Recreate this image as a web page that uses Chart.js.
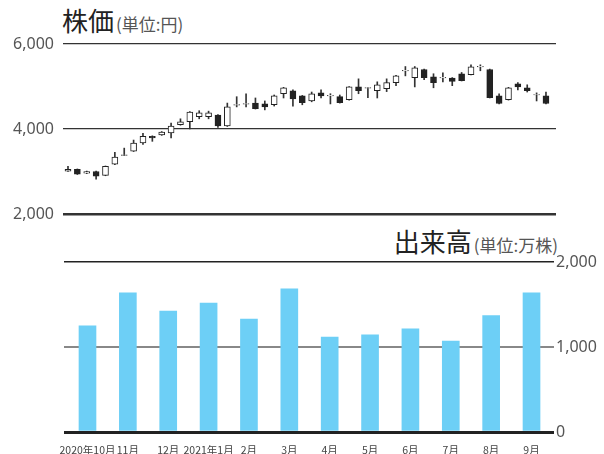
<!DOCTYPE html>
<html><head><meta charset="utf-8">
<script src="https://cdn.jsdelivr.net/npm/chart.js@4/dist/chart.umd.min.js"></script>
<style>
html,body{margin:0;padding:0;background:#fff;width:604px;height:454px;overflow:hidden;}
.box{position:absolute;left:0;}
.t1{position:absolute;left:62px;top:7px;font-family:"Noto Sans CJK JP";white-space:nowrap;line-height:1;}
.t2{position:absolute;right:46px;top:228px;font-family:"Noto Sans CJK JP";white-space:nowrap;line-height:1;}
.big{font-size:26px;color:#222;}
.small{font-size:17px;color:#555;margin-left:2px;}
</style></head>
<body>
<div class="t1"><span class="big">株価</span><span class="small">(単位:円)</span></div>
<div class="t2"><span class="big">出来高</span><span class="small">(単位:万株)</span></div>
<div class="box" style="top:0;width:604px;height:245px;"><canvas id="c1" width="604" height="245"></canvas></div>
<div class="box" style="top:225px;width:604px;height:229px;"><canvas id="c2" width="604" height="229"></canvas></div>
<script>
// Weekly candles (yen)
const openP  = [3010,3050,2960,3000,2910,3170,3380,3480,3670,3830,3860,3910,4100,4170,4290,4290,4330,4070,4560,4585,4610,4590,4570,4830,4900,4780,4660,4850,4780,4760,4690,4990,4960,4900,4950,5090,5365,5210,5400,5230,5200,5200,5300,5280,5460,5400,4780,4690,5060,4970,4800,4780];
const closeP = [3050,2940,3000,2890,3120,3340,3395,3670,3830,3790,3930,4070,4170,4400,4380,4380,4070,4520,4575,4600,4480,4520,4780,4970,4710,4620,4830,4780,4790,4620,4990,4900,4975,5040,5090,5250,5380,5440,5210,5090,5215,5120,5140,5460,5475,4740,4600,4970,4990,4900,4810,4600];
const highP  = [3120,3060,3010,3010,3130,3450,3550,3740,3900,3840,3940,4140,4240,4410,4430,4420,4340,4610,4760,4830,4730,4660,4800,4980,4920,4790,4870,4920,4830,4800,5000,5180,4980,5110,5180,5260,5470,5470,5410,5300,5320,5210,5330,5510,5510,5410,4830,4980,5090,5040,4850,4870];
const lowP   = [3000,2930,2950,2820,2900,3160,3375,3470,3640,3710,3850,3790,4090,4000,4240,4240,4040,4060,4520,4520,4470,4450,4540,4730,4540,4570,4640,4730,4590,4610,4680,4830,4740,4730,4880,5020,5250,4990,5160,4970,5110,5020,5130,5270,5370,4730,4590,4680,4920,4870,4660,4590];
// Monthly volume (10k shares)
const months = ['2020年10月','11月','12月','2021年1月','2月','3月','4月','5月','6月','7月','8月','9月'];
const volume = [1248,1637,1423,1518,1329,1685,1118,1142,1213,1071,1370,1637];
const priceTicks = [2000,4000,6000];
const volTicks = [0,1000,2000];

const fmt = v => Number(v).toLocaleString('en-US');
Chart.defaults.font.family = '"Noto Sans", "Noto Sans CJK JP", sans-serif';
Chart.defaults.animation = false;

const bodies = openP.map((o,i)=>({x:i, y:[o, closeP[i]]}));
const wicks = openP.map((o,i)=>({x:i, y:[lowP[i], highP[i]]}));
const bodyColors = openP.map((o,i)=> closeP[i] >= o ? '#ffffff' : '#222222');

new Chart(document.getElementById('c1'), {
  type: 'bar',
  data: { datasets: [
    { data: bodies, backgroundColor: bodyColors, borderColor: '#222', borderWidth: 1, borderSkipped: false, barThickness: 6, grouped: false },
    { data: wicks, backgroundColor: '#333', borderWidth: 0, barThickness: 1, grouped: false }
  ]},
  options: {
    responsive: false,
    layout: { padding: { top: 44, bottom: 31, left: 0, right: 48 } },
    plugins: { legend: { display: false }, tooltip: { enabled: false } },
    scales: {
      x: { type: 'linear', display: false, offset: false, min: -0.533, max: 52.07 },
      y: {
        position: 'left', min: 2000, max: 6000,
        afterBuildTicks: s => { s.ticks = priceTicks.map(v => ({value: v})); },
        afterFit: s => { s.width = 63; },
        border: { display: false },
        grid: { drawTicks: false, color: '#333', lineWidth: c => c.tick && c.tick.value === 2000 ? 2.5 : 1.2 },
        ticks: { padding: 9, color: '#555', font: { size: 16 }, callback: v => fmt(v) }
      }
    }
  }
});

new Chart(document.getElementById('c2'), {
  type: 'bar',
  data: { datasets: [
    { data: volume.map((v,i)=>({x:i, y:v})), backgroundColor: '#6dcff6', borderWidth: 0, barThickness: 17 }
  ]},
  options: {
    responsive: false,
    layout: { padding: { top: 37, bottom: 0, left: 64, right: 0 } },
    plugins: { legend: { display: false }, tooltip: { enabled: false } },
    scales: {
      x: {
        type: 'linear', offset: false, min: -0.582, max: 11.557,
        afterBuildTicks: s => { s.ticks = months.map((m,i) => ({value: i})); },
        afterFit: s => { s.height = 22; },
        border: { display: false },
        grid: { display: false, drawTicks: false },
        ticks: { padding: 12, color: '#444', maxRotation: 0, autoSkip: false, font: { size: 10.5, family: '"Noto Sans CJK JP"' }, callback: v => months[v] }
      },
      y: {
        position: 'right', min: 0, max: 2000,
        afterBuildTicks: s => { s.ticks = volTicks.map(v => ({value: v})); },
        afterFit: s => { s.width = 50; },
        border: { display: false },
        grid: { drawTicks: false,
          color: c => c.tick && c.tick.value === 1000 ? '#888' : '#222',
          lineWidth: c => c.tick && c.tick.value === 0 ? 3 : (c.tick && c.tick.value === 1000 ? 2 : 1.5) },
        ticks: { padding: 2, color: '#555', font: { size: 16 }, callback: v => fmt(v) }
      }
    }
  }
});
</script>
</body></html>
